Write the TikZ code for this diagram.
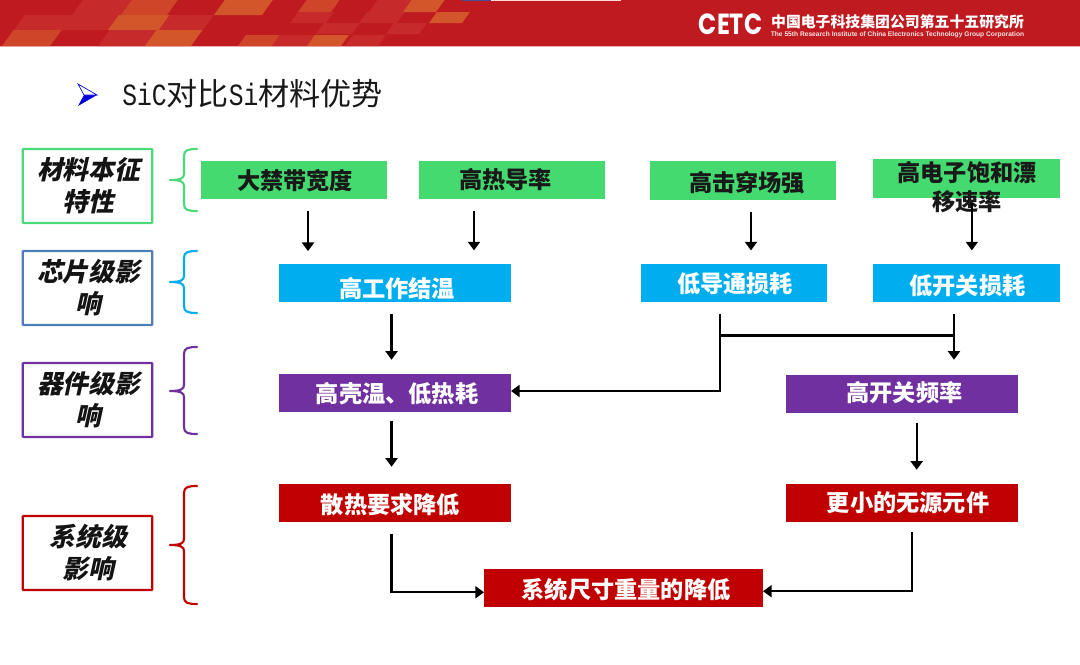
\documentclass[tikz,border=0pt]{standalone}
\usepackage{fontspec}
\usepackage{graphicx}
\usetikzlibrary{arrows.meta}
\newfontfamily\cjk{Noto Sans CJK SC}
\newfontfamily\cjks[FakeSlant=0.22,BoldFeatures={FakeSlant=0.22}]{Noto Sans CJK SC}
\newfontfamily\lmono{Liberation Mono}
\newfontfamily\lsans{Liberation Sans}
\newfontfamily\logofont{Poppins}
\newdimen\pxu \pxu=0.75pt
\definecolor{bannerred}{HTML}{BE1A20}
\definecolor{patchred}{HTML}{C72A2B}
\definecolor{patchorg}{HTML}{D2562A}
\definecolor{patchmid}{HTML}{CF452A}
\definecolor{mgreen}{HTML}{44DA70}
\definecolor{mblue}{HTML}{00AEEF}
\definecolor{mpurple}{HTML}{7030A0}
\definecolor{mred}{HTML}{C00000}
\definecolor{lgreen}{HTML}{4BD97A}
\definecolor{lblue}{HTML}{4F7DB8}
% text offset helper: dx, dy in px
\newcommand\ofs[3]{\makebox[0pt]{\hspace{#1\pxu}\hspace{#1\pxu}\raisebox{\dimexpr -#2\pxu-6.2pt\relax}[0pt][0pt]{#3}}}
\newcommand\twol[3]{\parbox[t]{200pt}{\centering\baselineskip=#1\pxu #2\\#3}}
\newcommand\pg[5]{\fill[#5] (#1,#4) -- ({#2},#4) -- ({#2+0.72*(#4-#3)},#3) -- ({#1+0.72*(#4-#3)},#3) -- cycle;}
\tikzset{
  fbox/.style={inner sep=0pt,outer sep=0pt,minimum height=38.5*0.75pt,font=\cjk\bfseries\fontsize{17.4pt}{21pt}\selectfont,text=white},
  gb/.style={fbox,fill=mgreen,minimum width=186.5*0.75pt,text=black!90},
  bb/.style={fbox,fill=mblue},
  pb/.style={fbox,fill=mpurple},
  rb/.style={fbox,fill=mred},
  wide/.style={minimum width=232*0.75pt},
  mid/.style={minimum width=186*0.75pt},
  lab/.style={inner sep=0pt,outer sep=0pt,minimum width=129.5*0.75pt,minimum height=74*0.75pt,draw=#1,line width=1.7pt,rounded corners=0.6pt,fill=white,font=\cjks\bfseries\fontsize{19.3pt}{23pt}\selectfont,text=black!92},
  brace/.style={draw=#1,line width=1.6pt,line cap=round,line join=round},
  arr/.style={draw=black,line width=1.7pt,-{Triangle[length=6.5pt,width=9pt]}},
  ln/.style={draw=black,line width=1.7pt},
}
\begin{document}
\begin{tikzpicture}[x=0.75pt,y=-0.75pt]
\useasboundingbox (0,0) rectangle (1080,664);
\fill[white] (0,0) rectangle (1080,664);
% banner
\fill[bannerred] (0,0) rectangle (1080,45.5);
\fill[bannerred!35!white] (0,45.5) rectangle (1080,46.5);
\pg{72}{121}{0}{15}{patchred}
\pg{121}{167}{0}{15}{patchmid}
\pg{214}{262}{0}{15}{patchorg}
\pg{298}{331}{0}{12}{patchmid}
\pg{369}{403}{0}{12}{patchred}
\pg{403}{436}{0}{12}{patchorg}
\pg{14}{108}{15}{30}{patchred}
\pg{108}{159}{15}{30}{patchorg}
\pg{159}{203}{15}{30}{patchred}
\pg{290}{326}{12}{23}{patchred}
\pg{359}{397}{12}{23}{patchred}
\pg{429}{462}{12}{23}{patchorg}
\pg{2}{50}{30}{46}{patchmid}
\pg{98}{145}{30}{46}{patchred}
\pg{145}{191}{30}{46}{patchorg}
\pg{238}{272}{35}{46}{patchmid}
\pg{272}{307}{35}{46}{patchred}
\pg{307}{341}{35}{46}{patchorg}
\pg{345}{378}{35}{46}{patchred}
\pg{316}{352}{23}{34}{patchred}
\pg{386}{419}{23}{34}{patchred}
\fill[blue!40!black!70] (462,0) rectangle (491,1.2);
\fill[white!85!red] (491,0) rectangle (621,1.2);
% logo
\node[inner sep=0pt,text=white] (logo) at (730.5,24.5) {\resizebox{47.5pt}{15.5pt}{\logofont\bfseries CETC}};
\node[inner sep=0pt,text=white,font=\cjk\bfseries\fontsize{11.15pt}{13pt}\selectfont,anchor=base] (org) at (897.5,27.8) {中国电子科技集团公司第五十五研究所};
\node[inner sep=0pt,text=white!90!red,anchor=base] (orgen) at (897.5,36) {\resizebox{190pt}{!}{\lsans\bfseries The 55th Research Institute of China Electronics Technology Group Corporation}};
% title
\fill[blue!85!black] (78,106) -- (97,95) -- (84,95) -- cycle;
\draw[blue!85!black,line width=0.5pt,fill=white] (78,84) -- (97,95) -- (84,95) -- cycle;
\node[inner sep=0pt,anchor=base west,text=black!90] (title) at (122,105) {\scalebox{1}[1.25]{\lmono\fontsize{18.5pt}{22pt}\selectfont SiC}\cjk\fontsize{23.3pt}{26pt}\selectfont 对比\scalebox{1}[1.25]{\lmono\fontsize{18.5pt}{22pt}\selectfont Si}\cjk\fontsize{23.3pt}{26pt}\selectfont 材料优势};
% left labels
\node[lab=lgreen] (l1) at (87.5,186) {\ofs{1}{-14.5}{\twol{32}{材料本征}{特性}}};
\node[lab=lblue] (l2) at (87.5,288) {\ofs{1}{-14.5}{\twol{32}{芯片级影}{响}}};
\node[lab=mpurple] (l3) at (87.5,400) {\ofs{1}{-14.5}{\twol{32}{器件级影}{响}}};
\node[lab=mred] (l4) at (87.5,553) {\ofs{1}{-14.5}{\twol{32}{系统级}{影响}}};
% braces
\draw[brace=lgreen] (197,149) .. controls (188,149) and (184,150) .. (184,156) -- (184,174) .. controls (184,178) and (181,180) .. (170,180) .. controls (181,180) and (184,182) .. (184,186) -- (184,204) .. controls (184,210) and (188,211) .. (197,211);
\draw[brace=mblue] (197,251) .. controls (188,251) and (184,252) .. (184,258) -- (184,276) .. controls (184,280) and (181,282) .. (170,282) .. controls (181,282) and (184,284) .. (184,288) -- (184,306) .. controls (184,312) and (188,313) .. (197,313);
\draw[brace=mpurple] (197,347) .. controls (188,347) and (184,348) .. (184,354) -- (184,385) .. controls (184,389) and (181,391) .. (170,391) .. controls (181,391) and (184,393) .. (184,397) -- (184,427) .. controls (184,433) and (188,434) .. (197,434);
\draw[brace=mred] (197,486) .. controls (188,486) and (184,487) .. (184,493) -- (184,539) .. controls (184,543) and (181,545) .. (170,545) .. controls (181,545) and (184,547) .. (184,551) -- (184,597) .. controls (184,603) and (188,604) .. (197,604);
% level 1
\node[gb] (g1) at (294,180) {\ofs{1}{1}{大禁带宽度}};
\node[gb] (g2) at (512,180) {\ofs{-6.5}{0}{高热导率}};
\node[gb] (g3) at (743,180.5) {\ofs{4}{3}{高击穿场强}};
\node[gb] (g4) at (966.5,178.5) {\ofs{0.5}{-5.5}{\twol{29}{高电子饱和漂}{移速率}}};
% level 2
\node[bb,wide] (b1) at (395,283) {\ofs{2}{6}{高工作结温}};
\node[bb,mid] (b2) at (733.5,283) {\ofs{1.5}{1}{低导通损耗}};
\node[bb,minimum width=187*0.75pt] (b3) at (966.5,283) {\ofs{1}{3}{低开关损耗}};
% level 3
\node[pb,wide] (p1) at (395,393) {\ofs{2}{1}{高壳温、低热耗}};
\node[pb,wide] (p2) at (902,394) {\ofs{2.5}{-0.5}{高开关频率}};
% level 4
\node[rb,wide] (r1) at (395,503) {\ofs{-4.5}{2}{散热要求降低}};
\node[rb,wide] (r2) at (902,503) {\ofs{6}{0}{更小的无源元件}};
\node[rb,minimum width=279*0.75pt] (r3) at (623.5,588) {\ofs{2.5}{2}{系统尺寸重量的降低}};
% connectors
\coordinate (j1) at (720,391);
\coordinate (j2) at (720,335.5);
\coordinate (j3) at (954,335.5);
\draw[arr,shorten <=9pt,shorten >=9.5pt] ([xshift=10.5pt]g1.south) -- ([shift={(14,0)}]g1.south |- b1.north);
\draw[arr,shorten <=9pt,shorten >=10pt] ([xshift=-28.5pt]g2.south) -- ([xshift=-28.5pt]g2.south |- b1.north);
\draw[arr,shorten <=9pt,shorten >=10pt] ([xshift=6pt]g3.south) -- ([xshift=6pt]g3.south |- b2.north);
\draw[arr,shorten <=4pt,shorten >=10pt] ([xshift=4pt]g4.south) -- ([xshift=4pt]g4.south |- b3.north);
\draw[arr,shorten <=9pt,shorten >=10.5pt] ([xshift=-2.6pt]b1.south) -- ([xshift=-2.6pt]p1.north);
\draw[arr,shorten <=6.5pt,shorten >=12.75pt] ([xshift=-2.6pt]p1.south) -- ([xshift=-2.6pt]r1.north);
\draw[ln,shorten <=8.5pt,line join=miter] ([xshift=-10.125pt]b2.south) -- (j1);
\draw[arr,line cap=rect] (j1) -- (j1 -| p1.east);
\draw[ln] (j2) -- (j3);
\draw[arr,shorten <=8.5pt,shorten >=11.25pt] ([xshift=-9.4pt]b3.south) -- ([xshift=-9.4pt]b3.south |- p2.north);
\draw[arr,shorten <=7.5pt,shorten >=10.5pt] ([xshift=11pt]p2.south) -- ([xshift=11pt]r2.north);
\draw[arr,shorten <=8.5pt] ([xshift=-2.6pt]r1.south) |- ([yshift=-3.2pt]r3.west);
\draw[arr,shorten <=7.5pt] ([xshift=7.5pt]r2.south) |- ([yshift=-2.4pt]r3.east);
\end{tikzpicture}
\end{document}
